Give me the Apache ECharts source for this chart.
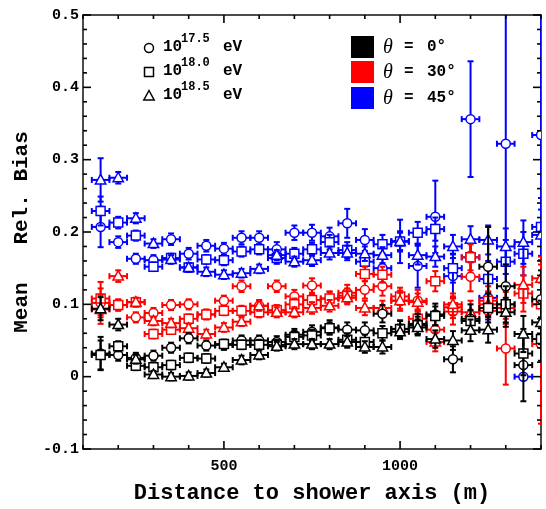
<!DOCTYPE html>
<html>
<head>
<meta charset="utf-8">
<script src="https://cdn.jsdelivr.net/npm/echarts@6/dist/echarts.min.js"></script>
<style>html,body{margin:0;padding:0;background:#fff}#c{width:546px;height:509px}</style>
</head>
<body>
<div id="c"></div>
<script>
// ---- data ----
const distances = [150,200,250,300,350,400,450,500,550,600,650,700,750,800,850,900,950,1000,1050,1100,1150,1200,1250,1300,1350,1400];
const binHalfWidth = 25;
const xTickLabels = [500, 1000];
const yTickLabels = [-0.1, 0, 0.1, 0.2, 0.3, 0.4, 0.5];

// theta = 0 deg (black)
const bias0_175 = [0.032,0.030,0.026,0.029,0.040,0.053,0.043,0.044,0.050,0.050,0.048,0.058,0.062,0.068,0.065,0.064,0.087,0.066,0.073,0.086,0.024,0.080,0.152,0.125,0.016,0.107];
const err0_175  = [0.023,0.008,0.007,0.007,0.007,0.007,0.007,0.007,0.007,0.007,0.008,0.008,0.009,0.010,0.010,0.011,0.012,0.012,0.014,0.015,0.018,0.020,0.055,0.030,0.050,0.040];
const bias0_180 = [0.030,0.042,0.015,0.013,0.016,0.026,0.025,0.045,0.044,0.044,0.044,0.055,0.057,0.067,0.051,0.048,0.060,0.066,0.071,0.084,null,0.077,0.095,0.100,0.032,0.052];
const err0_180  = [0.020,0.007,0.006,0.006,0.006,0.006,0.006,0.006,0.006,0.007,0.007,0.007,0.008,0.008,0.009,0.010,0.010,0.011,0.012,0.013,0.015,0.015,0.020,0.025,0.030,0.030];
const bias0_185 = [0.094,0.072,0.024,0.003,0.000,0.001,0.005,0.013,0.023,0.030,0.042,0.045,0.045,0.045,0.048,0.041,0.041,0.062,0.068,0.052,0.050,0.064,0.065,0.089,0.059,0.075];
const err0_185  = [0.016,0.008,0.006,0.005,0.005,0.005,0.005,0.005,0.006,0.006,0.006,0.007,0.007,0.007,0.008,0.008,0.009,0.010,0.011,0.012,0.013,0.015,0.018,0.020,0.025,0.030];

// theta = 30 deg (red)
const bias30_175 = [0.102,0.099,0.082,0.088,0.099,0.100,0.086,0.105,0.125,0.098,0.125,0.111,0.126,0.108,0.116,0.120,0.125,0.105,0.105,0.065,0.090,0.138,0.091,0.039,null,0.045];
const err30_175  = [0.020,0.008,0.007,0.007,0.007,0.007,0.007,0.007,0.008,0.008,0.008,0.009,0.010,0.010,0.011,0.012,0.013,0.014,0.015,0.016,0.018,0.020,0.025,0.050,0.040,0.110];
const bias30_180 = [0.108,0.099,0.103,0.059,0.065,0.080,0.086,0.091,0.091,0.089,0.092,0.100,0.106,0.108,0.112,0.142,0.141,0.111,0.080,0.132,0.096,0.165,0.105,0.095,0.115,0.100];
const err30_180  = [0.023,0.007,0.006,0.006,0.006,0.006,0.006,0.006,0.007,0.007,0.007,0.008,0.008,0.009,0.010,0.010,0.011,0.012,0.013,0.014,0.015,0.018,0.020,0.022,0.025,0.030];
const bias30_185 = [0.093,0.139,0.103,0.077,0.074,0.067,0.059,0.068,0.076,0.098,0.089,0.089,0.095,0.098,0.109,0.095,0.095,0.105,0.103,0.048,0.100,0.089,0.100,0.100,0.127,0.136];
const err30_185  = [0.020,0.008,0.006,0.006,0.006,0.006,0.006,0.006,0.006,0.007,0.007,0.007,0.008,0.008,0.009,0.010,0.010,0.011,0.012,0.013,0.015,0.016,0.018,0.020,0.025,0.030];

// theta = 45 deg (blue)
const bias45_175 = [0.207,0.186,0.163,0.161,0.190,0.170,0.181,0.177,0.192,0.192,0.176,0.199,0.199,0.194,0.212,0.189,0.150,0.187,0.153,0.221,0.139,0.356,0.109,0.322,0.000,0.334];
const err45_175  = [0.028,0.008,0.007,0.007,0.008,0.008,0.008,0.008,0.009,0.009,0.010,0.010,0.011,0.012,0.020,0.015,0.020,0.030,0.030,0.050,0.030,0.080,0.030,0.180,0.004,0.200];
const bias45_180 = [0.229,0.213,0.195,0.152,0.164,0.151,0.162,0.161,0.173,0.176,0.164,0.170,0.176,0.186,0.175,0.159,0.183,0.187,0.199,0.204,0.150,0.165,0.135,0.159,0.170,0.207];
const err45_180  = [0.020,0.008,0.007,0.006,0.006,0.006,0.006,0.007,0.007,0.007,0.008,0.008,0.009,0.010,0.011,0.012,0.013,0.014,0.015,0.016,0.020,0.022,0.025,0.030,0.030,0.040];
const bias45_185 = [0.272,0.275,0.219,0.184,0.162,0.151,0.145,0.141,0.143,0.149,0.168,0.159,0.161,0.171,0.171,0.170,0.168,0.187,0.168,0.166,0.180,0.190,0.189,0.180,0.186,0.196];
const err45_185  = [0.030,0.008,0.007,0.006,0.006,0.006,0.006,0.006,0.006,0.006,0.007,0.007,0.008,0.009,0.010,0.010,0.011,0.012,0.013,0.014,0.016,0.018,0.020,0.025,0.030,0.035];

const energyLabels = ['17.5', '18.0', '18.5'];
const angleLabels = ['0', '30', '45'];

// ---- chart ----
const FONT = '"Liberation Mono", "DejaVu Sans Mono", monospace';
const X_MIN = 100, X_MAX = 1400, Y_MIN = -0.1, Y_MAX = 0.5;
const chart = echarts.init(document.getElementById('c'));

function markerShape(shape, cx, cy, color) {
  const st = {fill: '#fff', stroke: color, lineWidth: 1.5};
  if (shape === 'circle') return {type: 'circle', shape: {cx: cx, cy: cy, r: 4.5}, style: st};
  if (shape === 'square') return {type: 'rect', shape: {x: cx - 4.5, y: cy - 4.5, width: 9, height: 9}, style: st};
  return {type: 'polygon', shape: {points: [[cx, cy - 5.5], [cx - 5.2, cy + 4], [cx + 5.2, cy + 4]]}, style: st};
}

function makeSeries(vals, errs, color, shape, z) {
  const data = [];
  distances.forEach(function (d, i) { if (vals[i] != null) data.push([d, vals[i], errs[i]]); });
  return {
    type: 'custom',
    xAxisIndex: 0, yAxisIndex: 0,
    clip: true,
    z: z,
    data: data,
    renderItem: function (params, api) {
      const x = api.value(0), y = api.value(1), e = api.value(2);
      const c = api.coord([x, y]);
      const l = api.coord([x - binHalfWidth, y]);
      const r = api.coord([x + binHalfWidth, y]);
      const t = api.coord([x, y + e]);
      const b = api.coord([x, y - e]);
      const ls = {stroke: color, lineWidth: 2};
      const cap = 3;
      const line = function (x1, y1, x2, y2) { return {type: 'line', shape: {x1: x1, y1: y1, x2: x2, y2: y2}, style: ls}; };
      return {
        type: 'group',
        children: [
          line(l[0], l[1], r[0], r[1]),
          line(t[0], t[1], b[0], b[1]),
          line(l[0], l[1] - cap, l[0], l[1] + cap),
          line(r[0], r[1] - cap, r[0], r[1] + cap),
          line(t[0] - cap, t[1], t[0] + cap, t[1]),
          line(b[0] - cap, b[1], b[0] + cap, b[1]),
          markerShape(shape, c[0], c[1], color)
        ]
      };
    }
  };
}

// tick marks on all four sides, placed through the axis scales
const tickData = [];
for (let v = 100; v <= 1400; v += 100) tickData.push([v, 0.2, xTickLabels.indexOf(v) >= 0 ? 8 : 4, 0]);
for (let k = 0; k <= 30; k++) {
  const v = Math.round((Y_MIN + k * 0.02) * 1000) / 1000;
  tickData.push([700, v, k % 5 === 0 ? 8 : 4, 1]);
}
const tickSeries = {
  type: 'custom', xAxisIndex: 0, yAxisIndex: 0, clip: false, silent: true, z: 20,
  data: tickData,
  renderItem: function (params, api) {
    const v0 = api.value(0), v1 = api.value(1), len = api.value(2), kind = api.value(3);
    const st = {stroke: '#000', lineWidth: 1.6};
    if (kind < 0.5) {
      const px = api.coord([v0, Y_MIN])[0];
      const yb = api.coord([v0, Y_MIN])[1];
      const yt = api.coord([v0, Y_MAX])[1];
      return {type: 'group', children: [
        {type: 'line', shape: {x1: px, y1: yb, x2: px, y2: yb - len}, style: st},
        {type: 'line', shape: {x1: px, y1: yt, x2: px, y2: yt + len}, style: st}
      ]};
    }
    const py = api.coord([X_MIN, v1])[1];
    const xl = api.coord([X_MIN, v1])[0];
    const xr = api.coord([X_MAX, v1])[0];
    return {type: 'group', children: [
      {type: 'line', shape: {x1: xl, y1: py, x2: xl + len, y2: py}, style: st},
      {type: 'line', shape: {x1: xr, y1: py, x2: xr - len, y2: py}, style: st}
    ]};
  }
};

function lbl() { return {fontFamily: FONT, fontWeight: 'bold', fontSize: 15, color: '#000'}; }
const frameLine = {show: true, onZero: false, lineStyle: {color: '#111', width: 1.5}};

const xAxes = [
  {
    type: 'value', min: X_MIN, max: X_MAX, interval: 100, position: 'bottom',
    axisLine: frameLine,
    axisTick: {show: false},
    axisLabel: Object.assign({show: true, margin: 10, formatter: function (v) { return xTickLabels.indexOf(v) >= 0 ? String(v) : ''; }}, lbl()),
    splitLine: {show: false},
    name: 'Distance to shower axis (m)', nameLocation: 'middle', nameGap: 33,
    nameTextStyle: {fontFamily: FONT, fontWeight: 'bold', fontSize: 22, color: '#000'}
  },
  {
    type: 'value', min: X_MIN, max: X_MAX, interval: 100, position: 'top',
    axisLine: frameLine, axisTick: {show: false},
    axisLabel: {show: false}, splitLine: {show: false}
  }
];
const yAxes = ['left', 'right'].map(function (pos) {
  const main = pos === 'left';
  return {
    type: 'value', min: Y_MIN, max: Y_MAX, interval: 0.1, position: pos,
    axisLine: frameLine,
    axisTick: {show: false},
    axisLabel: main ? Object.assign({show: true, margin: 4, formatter: function (v) { const r = Math.round(v * 10) / 10; return yTickLabels.indexOf(r) >= 0 ? String(r) : ''; }}, lbl()) : {show: false},
    splitLine: {show: false},
    name: main ? 'Mean   Rel. Bias' : '',
    nameLocation: 'middle', nameRotate: 90, nameGap: 47,
    nameTextStyle: {fontFamily: FONT, fontWeight: 'bold', fontSize: 21, color: '#000'}
  };
});

const legendGraphics = [];
const shapes = ['circle', 'square', 'triangle'];
const legRowY = [47, 71, 95];
shapes.forEach(function (s, i) {
  legendGraphics.push(Object.assign({}, markerShape(s, 149, legRowY[i] + 1, '#000'), {z: 100}));
  legendGraphics.push({type: 'text', x: 163, y: legRowY[i] - 8, z: 100, style: {text: '10', font: 'bold 16px ' + FONT, fill: '#000'}});
  legendGraphics.push({type: 'text', x: 181, y: legRowY[i] - 14, z: 100, style: {text: energyLabels[i], font: 'bold 12px ' + FONT, fill: '#000'}});
  legendGraphics.push({type: 'text', x: 223, y: legRowY[i] - 8, z: 100, style: {text: 'eV', font: 'bold 16px ' + FONT, fill: '#000'}});
});
const angleColors = ['#000000', '#ff0000', '#0000ff'];
const boxY = [36, 61, 87];
angleLabels.forEach(function (a, i) {
  legendGraphics.push({type: 'rect', z: 100, shape: {x: 351, y: boxY[i], width: 23, height: 22}, style: {fill: angleColors[i]}});
  legendGraphics.push({type: 'text', z: 100, x: 383, y: boxY[i] + 2, style: {text: 'θ', font: 'italic 20px "Liberation Serif", serif', fill: '#000'}});
  legendGraphics.push({type: 'text', z: 100, x: 404, y: boxY[i] + 3, style: {text: '=', font: 'bold 16px ' + FONT, fill: '#000'}});
  legendGraphics.push({type: 'text', z: 100, x: 427, y: boxY[i] + 3, style: {text: a + '°', font: 'bold 16px ' + FONT, fill: '#000'}});
});

chart.setOption({
  animation: false,
  grid: {left: 83, right: 5, top: 15, bottom: 54},
  xAxis: xAxes,
  yAxis: yAxes,
  graphic: legendGraphics,
  series: [
    makeSeries(bias45_175, err45_175, '#0000ff', 'circle', 2),
    makeSeries(bias45_180, err45_180, '#0000ff', 'square', 2),
    makeSeries(bias45_185, err45_185, '#0000ff', 'triangle', 2),
    makeSeries(bias30_175, err30_175, '#ff0000', 'circle', 3),
    makeSeries(bias30_180, err30_180, '#ff0000', 'square', 3),
    makeSeries(bias30_185, err30_185, '#ff0000', 'triangle', 3),
    makeSeries(bias0_175, err0_175, '#000000', 'circle', 4),
    makeSeries(bias0_180, err0_180, '#000000', 'square', 4),
    makeSeries(bias0_185, err0_185, '#000000', 'triangle', 4),
    tickSeries
  ]
});
</script>
</body>
</html>
